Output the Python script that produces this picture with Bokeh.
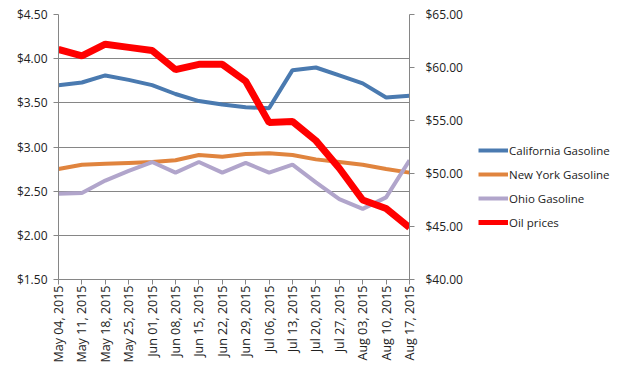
from bokeh.plotting import figure
from bokeh.layouts import row
from bokeh.models import (Range1d, LinearAxis, NumeralTickFormatter, FixedTicker,
                          Legend, LegendItem)
from bokeh.embed import file_html
from bokeh.resources import INLINE
import math

dates = ["May 04, 2015", "May 11, 2015", "May 18, 2015", "May 25, 2015",
         "Jun 01, 2015", "Jun 08, 2015", "Jun 15, 2015", "Jun 22, 2015",
         "Jun 29, 2015", "Jul 06, 2015", "Jul 13, 2015", "Jul 20, 2015",
         "Jul 27, 2015", "Aug 03, 2015", "Aug 10, 2015", "Aug 17, 2015"]

california = [3.70, 3.73, 3.81, 3.76, 3.70, 3.60, 3.52, 3.48,
              3.45, 3.44, 3.87, 3.90, 3.81, 3.72, 3.56, 3.58]
new_york = [2.75, 2.80, 2.81, 2.82, 2.83, 2.85, 2.91, 2.89,
            2.92, 2.93, 2.91, 2.86, 2.83, 2.80, 2.75, 2.71]
ohio = [2.47, 2.48, 2.62, 2.73, 2.83, 2.71, 2.83, 2.71,
        2.82, 2.71, 2.80, 2.60, 2.41, 2.30, 2.43, 2.85]
oil = [61.7, 61.1, 62.2, 61.9, 61.6, 59.8, 60.3, 60.3,
       58.7, 54.8, 54.9, 53.1, 50.5, 47.5, 46.7, 44.9]

series_names = ["California Gasoline", "New York Gasoline", "Ohio Gasoline", "Oil prices"]
series_colors = ["#4A7AB0", "#E0843E", "#B1A5CB", "#FF0000"]
series_widths = [4, 4, 4, 7]

left_ticks = [1.5, 2.0, 2.5, 3.0, 3.5, 4.0, 4.5]
right_ticks = [40, 45, 50, 55, 60, 65]

xs = list(range(len(dates)))
FONT = "Open Sans"
TXT = "#222222"
axis_color = "#868686"

MAIN_W = 470
TOTAL_W = 617
H = 365

p = figure(width=MAIN_W, height=H, output_backend="svg", toolbar_location=None,
           x_range=Range1d(0, len(dates) - 1), y_range=Range1d(1.5, 4.5))
p.min_border_left = 58
p.min_border_right = MAIN_W - 409
p.min_border_top = 14
p.min_border_bottom = H - 281
p.outline_line_color = None
p.background_fill_color = "white"
p.border_fill_color = "white"

p.extra_y_ranges = {"oil": Range1d(40, 65)}

# x axis
p.xaxis.ticker = FixedTicker(ticks=xs)
p.xaxis.major_label_overrides = {i: d for i, d in enumerate(dates)}
p.xaxis.major_label_orientation = math.pi / 2
p.xaxis.axis_line_color = axis_color
p.xaxis.major_tick_line_color = axis_color
p.xaxis.major_tick_out = 5
p.xaxis.major_tick_in = 0
p.xaxis.minor_tick_line_color = None
p.xaxis.major_label_text_font = FONT
p.xaxis.major_label_text_font_size = "12.5px"
p.xaxis.major_label_text_color = TXT
p.xaxis.major_label_standoff = 1
p.xgrid.grid_line_color = None

# left axis
p.yaxis.ticker = FixedTicker(ticks=left_ticks)
p.yaxis.formatter = NumeralTickFormatter(format="$0.00")
p.yaxis.axis_line_color = axis_color
p.yaxis.major_tick_line_color = axis_color
p.yaxis.major_tick_out = 5
p.yaxis.major_tick_in = 0
p.yaxis.minor_tick_line_color = None
p.yaxis.major_label_text_font = FONT
p.yaxis.major_label_text_font_size = "12px"
p.yaxis.major_label_text_color = TXT
p.yaxis.major_label_standoff = 6
p.ygrid.ticker = FixedTicker(ticks=left_ticks)
p.ygrid.grid_line_color = axis_color
p.ygrid.grid_line_width = 1

# right axis
ra = LinearAxis(y_range_name="oil", ticker=FixedTicker(ticks=right_ticks),
                formatter=NumeralTickFormatter(format="$0.00"))
ra.axis_line_color = axis_color
ra.major_tick_line_color = axis_color
ra.major_tick_out = 5
ra.major_tick_in = 0
ra.minor_tick_line_color = None
ra.major_label_text_font = FONT
ra.major_label_text_font_size = "12px"
ra.major_label_text_color = TXT
ra.major_label_standoff = 11
p.add_layout(ra, "right")

p.line(xs, california, line_color=series_colors[0], line_width=series_widths[0])
p.line(xs, new_york, line_color=series_colors[1], line_width=series_widths[1])
p.line(xs, ohio, line_color=series_colors[2], line_width=series_widths[2])
p.line(xs, oil, y_range_name="oil", line_color=series_colors[3], line_width=series_widths[3])

# legend panel (separate figure to the right); its proxy lines sit outside its view
LEG_W = TOTAL_W - MAIN_W
lf = figure(width=LEG_W, height=H, output_backend="svg", toolbar_location=None,
            x_axis_type=None, y_axis_type=None,
            x_range=Range1d(100, 101), y_range=Range1d(100, 101))
lf.min_border = 0
lf.outline_line_color = None
lf.xgrid.grid_line_color = None
lf.ygrid.grid_line_color = None
lf.background_fill_color = "white"
lf.border_fill_color = "white"

items = []
for name, col, w, data in zip(series_names, series_colors, series_widths,
                              [california, new_york, ohio, oil]):
    r = lf.line(xs, data, line_color=col, line_width=min(w, 5))
    items.append(LegendItem(label=name, renderers=[r]))

legend = Legend(items=items, location=(8, 47))
legend.background_fill_alpha = 0
legend.border_line_color = None
legend.padding = 0
legend.margin = 0
legend.spacing = 4
legend.glyph_width = 30
legend.glyph_height = 20
legend.label_height = 20
legend.label_standoff = 1
legend.label_text_font = FONT
legend.label_text_font_size = "11.5px"
legend.label_text_color = TXT
lf.add_layout(legend, "center")

layout = row(p, lf)
open("out.html", "w").write(file_html(layout, INLINE))
